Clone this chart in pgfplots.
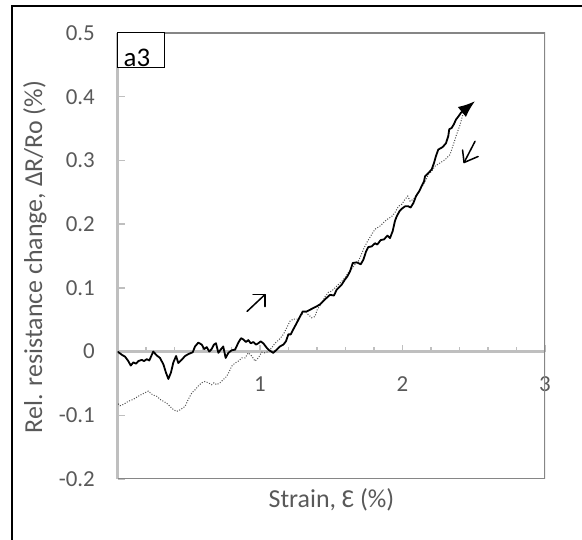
\documentclass[border=0pt]{standalone}
\usepackage{fontspec}
\setmainfont{Carlito}
\usepackage{pgfplots}
\pgfplotsset{compat=1.18}
\usetikzlibrary{arrows.meta}
\definecolor{axgray}{HTML}{BFBFBF}
\definecolor{framegray}{HTML}{868686}
\definecolor{txtgray}{HTML}{595959}
\definecolor{dotgray}{HTML}{505050}

\begin{document}
\begin{tikzpicture}[x=1bp,y=1bp]
\useasboundingbox (0,0) rectangle (582,540);
% outer chart border (cropped at right and bottom)
\draw[line width=1.6bp] (12,-5) -- (12,534) -- (590,534);

\begin{axis}[
  at={(117.5bp,61bp)}, anchor=south west,
  scale only axis, width=427.5bp, height=446bp,
  xmin=0, xmax=3, ymin=-0.2, ymax=0.5,
  axis x line=middle, axis y line=left,
  axis line style={-, axgray, line width=2.2bp},
  xtick={0,1,2,3}, minor x tick num=4,
  ytick={-0.2,-0.1,0,0.1,0.2,0.3,0.4,0.5},
  xtick align=inside, ytick align=inside,
  major tick length=7bp, minor tick length=4.7bp,
  tick style={axgray, line width=1.5bp},
  ticklabel style={font=\fontsize{23}{27}\selectfont, text=txtgray, inner sep=0pt},
  xticklabel style={anchor=north, yshift=-25bp},
  yticklabel style={anchor=east, xshift=-22.5bp},
  /pgf/number format/.cd, fixed, precision=1, assume math mode=true,
]
% unloading (dotted)
\addplot[dotgray, line width=1bp, dash pattern=on 1bp off 1.6bp] coordinates {
(2.427,0.375) (2.404,0.356) (2.38,0.341) (2.357,0.325) (2.333,0.309) (2.298,0.301)
(2.263,0.296) (2.228,0.291) (2.205,0.283) (2.181,0.278) (2.165,0.27) (2.146,0.262)
(2.123,0.254) (2.1,0.246) (2.076,0.239) (2.053,0.236) (2.037,0.244) (2.018,0.239)
(1.994,0.231) (1.971,0.228) (1.947,0.218) (1.924,0.212) (1.889,0.207) (1.865,0.202)
(1.842,0.197) (1.807,0.192) (1.784,0.184) (1.749,0.171) (1.725,0.16) (1.707,0.15)
(1.69,0.142) (1.667,0.137) (1.644,0.13) (1.62,0.124) (1.596,0.116) (1.573,0.11)
(1.549,0.105) (1.526,0.1) (1.503,0.095) (1.48,0.093) (1.456,0.086) (1.433,0.076)
(1.402,0.066) (1.386,0.055) (1.363,0.053) (1.339,0.058) (1.314,0.063) (1.293,0.058)
(1.269,0.051) (1.234,0.051) (1.211,0.048) (1.187,0.037) (1.164,0.027) (1.135,0.019)
(1.105,0.013) (1.082,0.006) (1.058,0) (1.035,-0.002) (1.012,-0.001) (0.988,-0.01)
(0.965,-0.015) (0.942,-0.007) (0.918,-0.002) (0.895,-0.01) (0.872,-0.01) (0.848,-0.015)
(0.825,-0.018) (0.801,-0.023) (0.785,-0.031) (0.766,-0.039) (0.742,-0.044) (0.719,-0.049)
(0.696,-0.052) (0.677,-0.049) (0.661,-0.052) (0.637,-0.049) (0.614,-0.047) (0.591,-0.049)
(0.567,-0.054) (0.544,-0.06) (0.521,-0.065) (0.497,-0.075) (0.474,-0.086) (0.443,-0.091)
(0.415,-0.094) (0.392,-0.091) (0.368,-0.086) (0.345,-0.081) (0.322,-0.078) (0.298,-0.075)
(0.275,-0.07) (0.247,-0.068) (0.216,-0.062) (0.181,-0.066) (0.146,-0.07) (0.111,-0.075)
(0.076,-0.078) (0.041,-0.083) (0.018,-0.085) (0,-0.081)
};
% loading (solid)
\addplot[black, line width=1.8bp, line join=round, -{Latex[length=17bp,width=13bp]}] coordinates {
(0,0) (0.03,-0.005) (0.053,-0.008) (0.076,-0.015) (0.093,-0.022) (0.111,-0.017)
(0.13,-0.019) (0.146,-0.015) (0.17,-0.013) (0.186,-0.015) (0.205,-0.012) (0.223,-0.014)
(0.251,0) (0.275,-0.006) (0.298,-0.01) (0.322,-0.02) (0.34,-0.033) (0.357,-0.043)
(0.375,-0.033) (0.392,-0.017) (0.411,-0.007) (0.427,-0.018) (0.45,-0.013) (0.474,-0.007)
(0.497,-0.004) (0.528,-0.001) (0.544,0.008) (0.567,0.014) (0.591,0.011) (0.609,0.004)
(0.626,0.007) (0.644,0) (0.661,0.004) (0.677,0.011) (0.691,0.013) (0.708,-0.002)
(0.724,0.003) (0.742,0.008) (0.759,-0.01) (0.778,-0.002) (0.801,0.002) (0.825,0.003)
(0.848,0.014) (0.867,0.021) (0.883,0.019) (0.902,0.015) (0.918,0.018) (0.935,0.013)
(0.953,0.015) (0.972,0.011) (0.988,0.013) (1.005,0.016) (1.023,0.013) (1.047,0.006)
(1.065,0.002) (1.093,-0.002) (1.117,0.003) (1.14,0.008) (1.164,0.011) (1.182,0.016)
(1.199,0.027) (1.216,0.027) (1.234,0.035) (1.258,0.045) (1.281,0.055) (1.3,0.063)
(1.328,0.063) (1.363,0.067) (1.398,0.071) (1.421,0.074) (1.456,0.082) (1.491,0.089)
(1.519,0.088) (1.538,0.097) (1.573,0.105) (1.596,0.113) (1.613,0.118) (1.632,0.126)
(1.651,0.139) (1.679,0.14) (1.707,0.137) (1.725,0.144) (1.744,0.157) (1.76,0.164)
(1.784,0.165) (1.807,0.17) (1.823,0.168) (1.847,0.175) (1.87,0.176) (1.894,0.182)
(1.912,0.178) (1.931,0.189) (1.947,0.205) (1.959,0.212) (1.978,0.22) (1.994,0.224)
(2.018,0.228) (2.041,0.228) (2.057,0.226) (2.076,0.233) (2.095,0.244) (2.118,0.252)
(2.135,0.26) (2.151,0.267) (2.158,0.275) (2.181,0.28) (2.205,0.286) (2.221,0.296)
(2.235,0.307) (2.251,0.317) (2.282,0.321) (2.305,0.327) (2.321,0.338) (2.328,0.349)
(2.345,0.351) (2.361,0.357) (2.375,0.364) (2.392,0.369) (2.411,0.375) (2.509,0.393)
};
% plot area frame
\draw[framegray, line width=1.5bp] (rel axis cs:0,1) -- (rel axis cs:1,1) -- (rel axis cs:1,0);
\draw[framegray, line width=2.5bp] (rel axis cs:0,0) -- (rel axis cs:1,0);
% direction arrows
\draw[black, line width=1.5bp, line cap=round, line join=round]
  (axis cs:0.909,0.063) -- (axis cs:1.035,0.0895);
\draw[black, line width=1.5bp, line cap=round, line join=round]
  (axis cs:0.951,0.0895) -- (axis cs:1.035,0.0895) -- (axis cs:1.035,0.0707);
\draw[black, line width=1.5bp, line cap=round, line join=round]
  (axis cs:2.509,0.330) -- (axis cs:2.432,0.2967);
\draw[black, line width=1.5bp, line cap=round, line join=round]
  (axis cs:2.4215,0.3163) -- (axis cs:2.432,0.2967) -- (axis cs:2.5302,0.3061);
\end{axis}

\node[rotate=90, anchor=base, text=txtgray, font=\fontsize{26}{30}\selectfont, inner sep=0pt]
  at (42,283) {Rel. resistance change, ΔR/Ro (\%)};
\node[anchor=base, text=txtgray, font=\fontsize{26}{30}\selectfont, inner sep=0pt]
  at (331.5,32.3) {Strain, Ɛ (\%)};
\draw[black, line width=1bp, fill=white] (117.5,472) rectangle (164,507);
\node[anchor=base, font=\fontsize{27}{30}\selectfont, inner sep=0pt] at (137,473) {a3};
\end{tikzpicture}
\end{document}
